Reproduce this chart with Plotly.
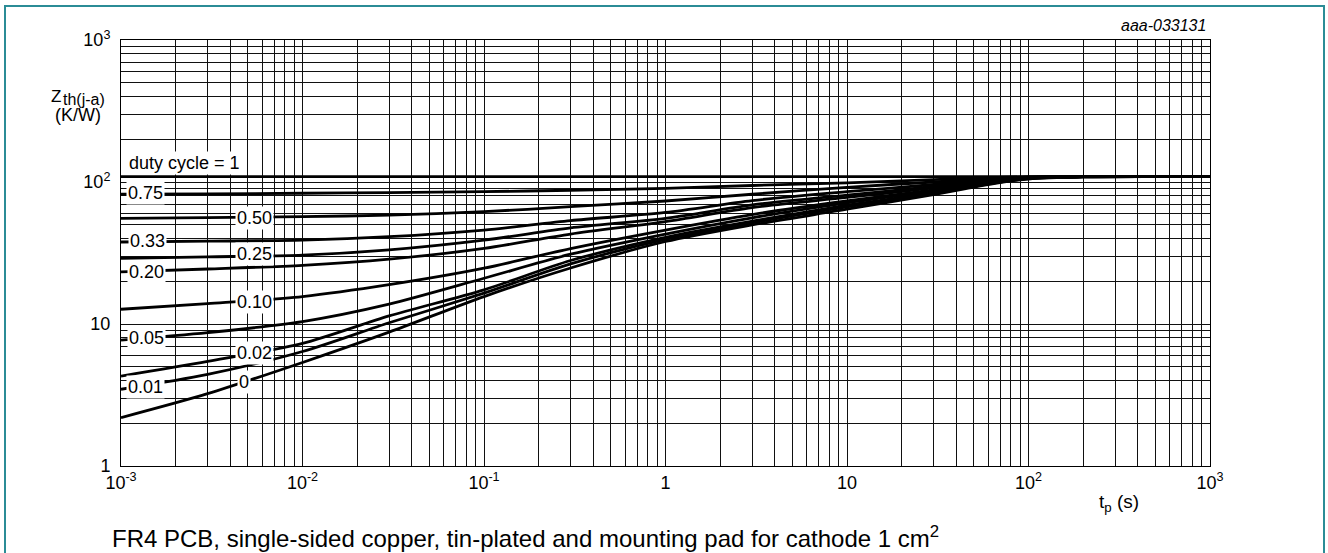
import numpy as np
import plotly.graph_objects as go

# ---------------- data ----------------
t_s = [1e-3, 3e-3, 1e-2, 3e-2, 0.1, 0.3, 1, 3, 10, 30, 60, 100, 200, 1000]

z_d100 = [109, 109, 109, 109, 109, 109, 109, 109, 109, 109, 109, 109, 109, 109]
z_d075 = [82, 82.6, 83.3, 84.2, 85.5, 87.5, 90.3, 94.5, 98.6, 104, 107.5, 108.7, 109, 109]
z_d050 = [55.5, 56.2, 57, 58.5, 61.8, 67, 73.5, 82, 91.8, 100, 105.5, 108.3, 109, 109]
z_d033 = [37.8, 38.3, 39, 41.2, 45.9, 53.5, 61, 74, 85.5, 96, 104, 108, 109, 109]
z_d025 = [29.0, 29.7, 30.6, 33.3, 39, 47.5, 55.5, 69, 80.9, 93, 102.5, 107.5, 109, 109]
z_d020 = [23.3, 24.4, 25.9, 28.6, 34.1, 43, 52.6, 66, 77.8, 91, 101.5, 107.3, 109, 109]
z_d010 = [12.7, 13.9, 15.6, 18.9, 24.7, 34, 45.9, 59, 73.5, 88, 99.5, 107, 109, 109]
z_d005 = [7.7, 8.7, 10.4, 13.8, 21, 31, 43, 56, 71.3, 86, 98.5, 106.5, 109, 109]
z_d002 = [4.3, 5.45, 7.3, 11.4, 17.4, 28, 40.8, 53, 68.6, 84, 97.5, 106, 108.8, 109]
z_d001 = [3.47, 4.42, 6.4, 10.2, 16.5, 26.5, 39.4, 51.5, 66.9, 83, 97, 105.8, 108.8, 109]
z_d000 = [2.19, 3.23, 5.36, 8.76, 15.6, 24.8, 38.1, 49.9, 64.3, 81.5, 96, 105, 108.6, 109]

curve_sets = [z_d100, z_d075, z_d050, z_d033, z_d025, z_d020,
              z_d010, z_d005, z_d002, z_d001, z_d000]

# curve labels and where they sit (time, Zth)
label_text = ["duty cycle = 1", "0.75", "0.50", "0.33", "0.25", "0.20",
              "0.10", "0.05", "0.02", "0.01", "0"]
label_t = [2.24e-3, 1.37e-3, 5.42e-3, 1.40e-3, 5.47e-3, 1.39e-3,
           5.42e-3, 1.38e-3, 5.42e-3, 1.37e-3, 4.74e-3]
label_z = [135.5, 83.3, 55.8, 38.6, 31.1, 23.4, 14.4, 7.93, 6.22, 3.58, 3.92]

x_tickvals = [1e-3, 1e-2, 1e-1, 1, 10, 100, 1000]
x_ticktext = ["10<sup>-3</sup>", "10<sup>-2</sup>", "10<sup>-1</sup>", "1", "10",
              "10<sup>2</sup>", "10<sup>3</sup>"]
y_tickvals = [1, 10, 100, 1000]
y_ticktext = ["1", "10", "10<sup>2</sup>", "10<sup>3</sup>"]

x_minor = [m * 10.0 ** e for e in range(-3, 3) for m in range(2, 10)]
y_minor = [m * 10.0 ** e for e in range(0, 3) for m in range(2, 10)]

# ---------------- figure ----------------
FONT = "Liberation Sans, Arial, sans-serif"
W, H = 1328, 553
L, R, T, B = 121, 118, 40, 87
PW, PH = W - L - R, H - T - B


def px_to_paper(px, py):
    return (px - L) / PW, (H - B - py) / PH


fig = go.Figure()
for z in curve_sets:
    fig.add_trace(go.Scatter(x=t_s, y=z, mode="lines",
                             line=dict(color="black", width=2.8, shape="spline", smoothing=0.8),
                             hoverinfo="skip", showlegend=False))

grid_col = "#111111"
fig.update_xaxes(type="log", range=[-3, 3], tickmode="array", tickvals=x_tickvals,
                 ticktext=x_ticktext, showgrid=True, gridcolor=grid_col, gridwidth=1,
                 minor=dict(tickmode="array", tickvals=x_minor, showgrid=True,
                            gridcolor=grid_col, gridwidth=1, ticks=""),
                 showline=True, linecolor="black", linewidth=1, mirror=True,
                 ticks="", zeroline=False, tickfont=dict(family=FONT, size=18, color="black"))
fig.update_yaxes(type="log", range=[0, 3], tickmode="array", tickvals=y_tickvals,
                 ticktext=y_ticktext, showgrid=True, gridcolor=grid_col, gridwidth=1,
                 minor=dict(tickmode="array", tickvals=y_minor, showgrid=True,
                            gridcolor=grid_col, gridwidth=1, ticks=""),
                 showline=True, linecolor="black", linewidth=1, mirror=True,
                 ticks="", zeroline=False, ticklabelstandoff=6,
                 tickfont=dict(family=FONT, size=18, color="black"))

annotations = []
for txt, lt, lz in zip(label_text, label_t, label_z):
    annotations.append(dict(x=np.log10(lt), y=np.log10(lz), xref="x", yref="y",
                            xanchor="center", yanchor="middle",
                            text=txt, showarrow=False, bgcolor="white", borderpad=1,
                            font=dict(family=FONT, size=18, color="black")))


def paper_text(px, py, text, size, xanchor="center", italic=False):
    ax, ay = px_to_paper(px, py)
    annotations.append(dict(x=ax, y=ay, xref="paper", yref="paper", text=text,
                            xanchor=xanchor, yanchor="middle", showarrow=False,
                            font=dict(family=FONT, size=size, color="black",
                                      style="italic" if italic else "normal")))


paper_text(56, 96, "Z", 17)
paper_text(61, 99.5, "th(j-a)", 16, xanchor="left")
paper_text(77.5, 115, "(K/W)", 18)
paper_text(1119, 503, "t<sub>p</sub> (s)", 19)
paper_text(1208, 26, "aaa-033131", 16, xanchor="right", italic=True)
paper_text(110, 537, "FR4 PCB, single-sided copper, tin-plated and mounting pad for cathode 1 cm<sup>2</sup>",
           24, xanchor="left")

x0, y1 = px_to_paper(5, 6)
x1, y0 = px_to_paper(1324, 570)
fig.add_shape(type="rect", xref="paper", yref="paper", x0=x0, x1=x1, y0=y0, y1=y1,
              line=dict(color="#2b8c96", width=2), layer="above")

fig.update_layout(width=W, height=H, margin=dict(l=L, r=R, t=T, b=B, pad=0),
                  paper_bgcolor="white", plot_bgcolor="white",
                  annotations=annotations, showlegend=False)

fig.write_html("out.html", config={"displayModeBar": False},
               post_script="document.body.style.margin='0px';")
